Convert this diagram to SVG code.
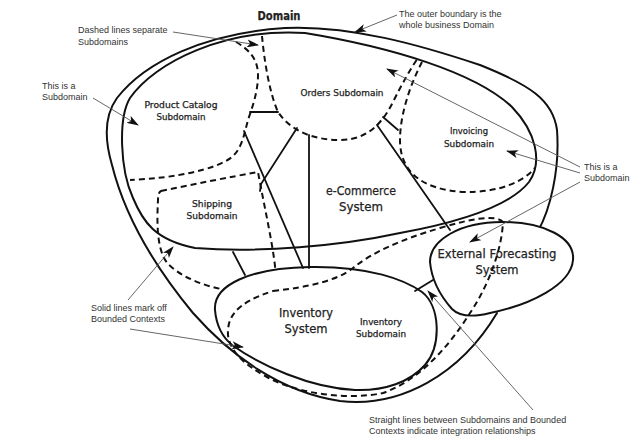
<svg xmlns="http://www.w3.org/2000/svg" width="640" height="438" viewBox="0 0 640 438">
<defs>
<marker id="ah" markerWidth="12" markerHeight="8" refX="11" refY="4" orient="auto" markerUnits="userSpaceOnUse">
<path d="M0,0 L12,4 L0,8 L3,4 Z" fill="#111"/>
</marker>
<style>
.solid{fill:none;stroke:#111;stroke-width:2;stroke-linejoin:round;stroke-linecap:round}
.fillw{fill:#fff;stroke:#111;stroke-width:2}
.dash{fill:none;stroke:#111;stroke-width:2;stroke-dasharray:6 4}
.link{fill:none;stroke:#111;stroke-width:1.8;stroke-linecap:round}
.note{fill:none;stroke:#555;stroke-width:0.9;marker-end:url(#ah)}
.ann{font-family:"Liberation Sans",Arial,sans-serif;font-size:9px;fill:#333}
.lbl{font-family:"DejaVu Sans","Liberation Sans",sans-serif;fill:#222;stroke:#222;stroke-width:0.25;text-anchor:middle}
.s{font-size:8.5px}
.b{font-size:11.5px}
</style>
</defs>
<rect width="640" height="438" fill="#fff"/>

<g id="domain">
<path class="solid" d="M538,231 C550,210 560,170 557,130 C553,100 530,85 480,65 C420,45 350,25 285,28 C205,33 145,62 117,98 C104,116 104,138 112,165 C122,205 145,255 193,313 C230,355 280,392 340,401 C400,408 460,375 497,313"/>
<text class="lbl" x="279" y="20" style="font-size:12px;font-weight:bold" textLength="43" lengthAdjust="spacingAndGlyphs">Domain</text>
</g>

<g id="ecommerce">
<path class="solid" d="M400,233 C460,222 510,206 529,182 C543,162 536,132 512,107 C475,72 390,47 305,33 C225,28 155,62 130,98 C118,118 120,170 133,198 C143,222 155,240 195,248 C260,253 340,246 400,233 Z"/>
<text class="lbl b" x="361" y="195" textLength="70" lengthAdjust="spacingAndGlyphs">e-Commerce</text>
<text class="lbl b" x="361" y="211" textLength="44" lengthAdjust="spacingAndGlyphs">System</text>
</g>

<g id="product-catalog">
<path class="dash" d="M236,42 C250,50 258,60 258,75 C258,92 252,108 248,120 C244,135 242,148 232,157 C215,170 175,178 130,180"/>
<text class="lbl s" x="181" y="108" textLength="73" lengthAdjust="spacingAndGlyphs">Product Catalog</text>
<text class="lbl s" x="181" y="120" textLength="49" lengthAdjust="spacingAndGlyphs">Subdomain</text>
</g>

<g id="orders">
<path class="dash" d="M262,36 C264,58 269,92 278,112 C290,130 312,140 340,140 C368,140 383,122 393,102 C403,82 411,68 418,58"/>
<text class="lbl s" x="342" y="96" textLength="83" lengthAdjust="spacingAndGlyphs">Orders Subdomain</text>
</g>

<g id="invoicing">
<path class="dash" d="M422,62 C410,85 400,115 400,140 C400,172 422,189 462,192 C500,193 524,181 535,168"/>
<text class="lbl s" x="469" y="134" textLength="38" lengthAdjust="spacingAndGlyphs">Invoicing</text>
<text class="lbl s" x="469" y="147" textLength="50" lengthAdjust="spacingAndGlyphs">Subdomain</text>
</g>

<g id="shipping">
<path class="dash" d="M161,191 C195,184 230,177 258,172 C264,205 272,240 275,266 C276,282 274,290 262,292 C230,294 190,285 168,264 C156,250 157,220 158,200 C158,195 159,192 161,191 Z"/>
<text class="lbl s" x="212" y="207" textLength="40" lengthAdjust="spacingAndGlyphs">Shipping</text>
<text class="lbl s" x="212" y="219" textLength="51" lengthAdjust="spacingAndGlyphs">Subdomain</text>
</g>

<g id="inventory-system">
<path class="fillw" d="M215,310 C213,285 250,268 310,267 C370,266 405,280 422,292 C440,306 442,345 425,365 C410,382 385,391 355,390 C310,388 260,365 232,345 C220,335 216,322 215,310 Z"/>
<text class="lbl b" x="306" y="317" textLength="54" lengthAdjust="spacingAndGlyphs">Inventory</text>
<text class="lbl b" x="306" y="333" textLength="43" lengthAdjust="spacingAndGlyphs">System</text>
</g>

<g id="forecasting">
<path class="fillw" d="M430,262 C430,240 460,222 502,222 C545,222 575,238 573,260 C571,285 530,305 490,313 C470,318 459,316 452,309 C444,300 432,284 430,262 Z"/>
<text class="lbl b" x="497" y="258" textLength="119" lengthAdjust="spacingAndGlyphs">External Forecasting</text>
<text class="lbl b" x="497" y="274" textLength="43" lengthAdjust="spacingAndGlyphs">System</text>
</g>

<g id="inventory-subdomain">
<path class="dash" d="M273,291 C310,287 338,280 353,268 C373,252 400,240 440,228 C470,219 495,214 503,222 C502,245 492,280 470,313 C450,345 420,380 383,393 C350,400 300,395 267,377 C245,365 230,352 228,335 C227,318 235,303 273,291 Z"/>
<text class="lbl s" x="381" y="325" textLength="42" lengthAdjust="spacingAndGlyphs">Inventory</text>
<text class="lbl s" x="381" y="337" textLength="50" lengthAdjust="spacingAndGlyphs">Subdomain</text>
</g>

<g id="connectors">
<line class="link" x1="250" y1="112" x2="278" y2="112"/>
<line class="link" x1="244" y1="131" x2="303" y2="268"/>
<polyline class="link" points="297,128 261,184 260,191"/>
<line class="link" x1="309" y1="135" x2="309" y2="268"/>
<line class="link" x1="377" y1="125" x2="450" y2="230"/>
<line class="link" x1="383" y1="117" x2="398" y2="130"/>
<line class="link" x1="233" y1="252" x2="245" y2="275"/>
<line class="link" x1="415" y1="291" x2="433" y2="280"/>
</g>

<g id="annotations">
<text class="ann" x="78" y="33">Dashed lines separate</text>
<text class="ann" x="78" y="45">Subdomains</text>
<path class="note" d="M173,32 L258,45"/>
<text class="ann" x="399" y="17">The outer boundary is the</text>
<text class="ann" x="399" y="28">whole business Domain</text>
<path class="note" d="M397,15 L355,32"/>
<text class="ann" x="42" y="89">This is a</text>
<text class="ann" x="42" y="100">Subdomain</text>
<path class="note" d="M93,98 L138,125"/>
<text class="ann" x="584" y="170">This is a</text>
<text class="ann" x="584" y="181">Subdomain</text>
<path class="note" d="M580,167 L387,69"/>
<path class="note" d="M580,173 L507,151"/>
<path class="note" d="M580,182 L470,242"/>
<text class="ann" x="91" y="311">Solid lines mark off</text>
<text class="ann" x="91" y="322">Bounded Contexts</text>
<path class="note" d="M128,300 L173,247"/>
<path class="note" d="M130,329 L243,347"/>
<text class="ann" x="369" y="423">Straight lines between Subdomains and Bounded</text>
<text class="ann" x="369" y="434">Contexts indicate integration relationships</text>
<path class="note" d="M533,410 L428,291"/>
</g>
</svg>
